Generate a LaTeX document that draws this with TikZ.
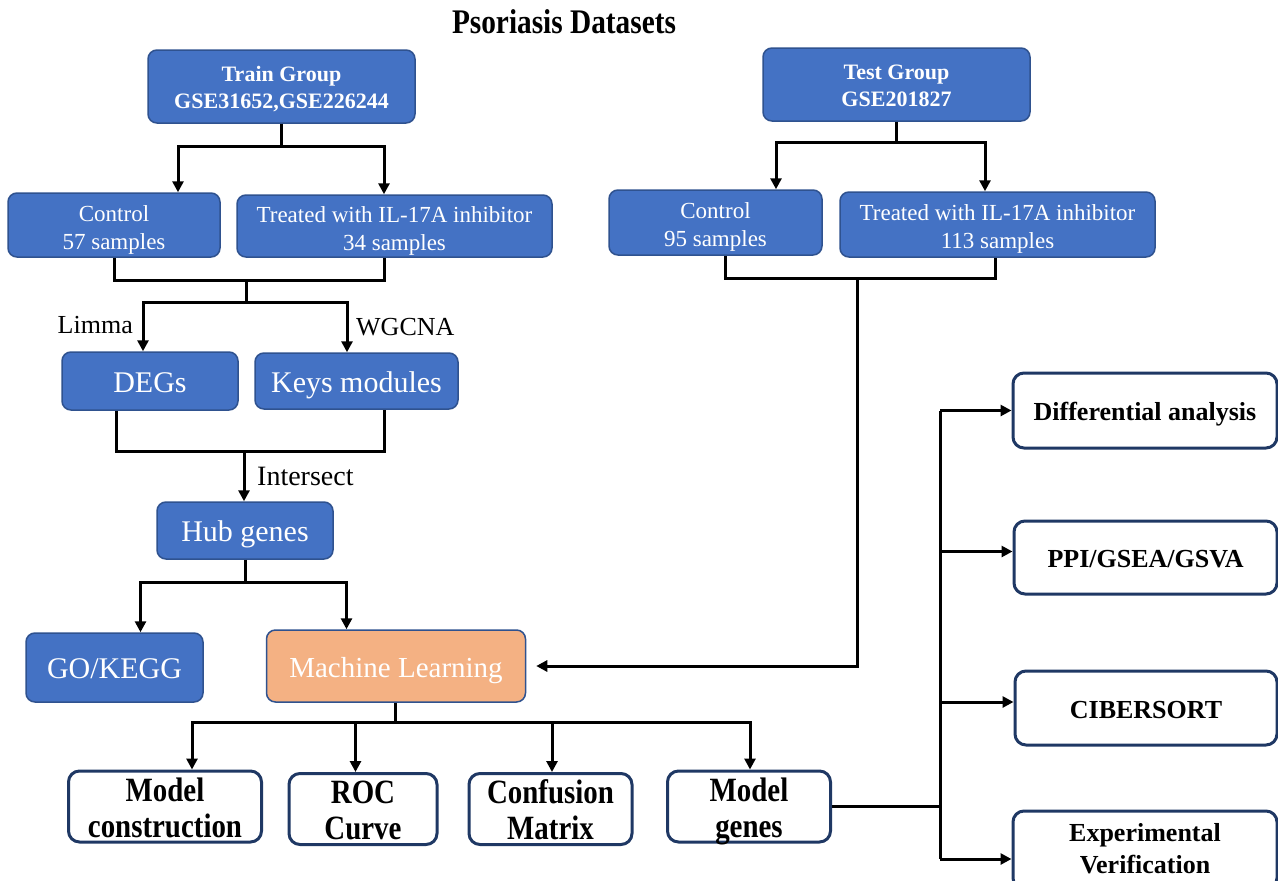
\documentclass[tikz,border=0pt]{standalone}
\usepackage{fontspec}
\setmainfont{Liberation Serif}
\newfontfamily\condbf[FakeStretch=0.85]{Liberation Serif Bold}
\usetikzlibrary{arrows.meta}
\definecolor{boxblue}{HTML}{4472C4}
\definecolor{boxedge}{HTML}{2F528F}
\definecolor{navy}{HTML}{1F3864}
\definecolor{mlorange}{HTML}{F4B183}
\tikzset{
  bluebox/.style={draw=boxedge, fill=boxblue, line width=1.5pt, rounded corners=9pt, text=white, align=center, inner sep=0pt},
  mlbox/.style={bluebox, fill=mlorange},
  whitebox/.style={draw=navy, fill=white, line width=3pt, rounded corners=11pt, text=black, align=center, inner sep=0pt},
  conn/.style={line width=3pt, line join=miter},
  arr/.style={conn, -{Triangle[length=11pt,width=11pt]}},
  lbl/.style={inner sep=0pt, font=\fontsize{26}{30}\selectfont},
  twohead/.style={text height=50pt, text depth=6.5pt},
  twoline/.style={text height=54pt, text depth=6pt},
  twobig/.style={text height=65pt, text depth=4pt},
  twoexp/.style={text height=52pt, text depth=5.3pt},
  oneline/.style={text height=30.5pt, text depth=8pt},
  oneright/.style={text height=27.5pt, text depth=7pt},
}
\begin{document}
\begin{tikzpicture}[x=1pt,y=-1pt]
\clip (0,0) rectangle (1278,881);
\fill[white] (0,0) rectangle (1278,881);

\node[inner sep=0pt, font=\condbf\fontsize{34.5}{38}\selectfont] (title) at (564,22) {Psoriasis Datasets};

% train branch
\node[bluebox, twohead, minimum width=267, minimum height=73, font=\bfseries\fontsize{22}{27}\selectfont] (train) at (281.5,86.5) {Train Group\\GSE31652,GSE226244};
\node[bluebox, twoline, minimum width=212, minimum height=64, font=\fontsize{23}{28}\selectfont] (ctrl1) at (114,225) {Control\\57 samples};
\node[bluebox, twoline, minimum width=315, minimum height=62, font=\fontsize{23}{28}\selectfont] (trt1) at (394.5,226) {Treated with IL-17A inhibitor\\34 samples};

% test branch
\node[bluebox, twohead, minimum width=267, minimum height=73, font=\bfseries\fontsize{22}{27}\selectfont] (test) at (896.5,84.5) {Test Group\\GSE201827};
\node[bluebox, twoline, minimum width=213, minimum height=65, font=\fontsize{23}{28}\selectfont] (ctrl2) at (715.5,222.5) {Control\\95 samples};
\node[bluebox, twoline, minimum width=315, minimum height=65, font=\fontsize{23}{28}\selectfont] (trt2) at (997.5,224.5) {Treated with IL-17A inhibitor\\113 samples};

% analysis
\node[bluebox, oneline, minimum width=176, minimum height=58, font=\fontsize{30}{34}\selectfont] (degs) at (150,381) {DEGs};
\node[bluebox, oneline, minimum width=203, minimum height=56, font=\fontsize{30}{34}\selectfont] (keys) at (356.5,381) {Keys modules};
\node[bluebox, oneline, minimum width=176, minimum height=57, font=\fontsize{30}{34}\selectfont] (hub) at (245,530.5) {Hub genes};
\node[bluebox, oneline, minimum width=177, minimum height=69, font=\fontsize{30}{34}\selectfont] (gokegg) at (114.5,667.5) {GO/KEGG};
\node[mlbox, oneline, minimum width=259, minimum height=72, font=\fontsize{29}{34}\selectfont] (ml) at (396,666) {Machine Learning};

% bottom white boxes
\node[whitebox, twobig, minimum width=193, minimum height=71, font=\condbf\fontsize{34}{36}\selectfont] (mc) at (165,806.5) {Model\\construction};
\node[whitebox, twobig, minimum width=148, minimum height=71, font=\condbf\fontsize{34}{36}\selectfont] (roc) at (363,809) {ROC\\Curve};
\node[whitebox, twobig, minimum width=163, minimum height=71, font=\condbf\fontsize{34}{36}\selectfont] (cm) at (550.5,809) {Confusion\\Matrix};
\node[whitebox, twobig, minimum width=163, minimum height=71, font=\condbf\fontsize{34}{36}\selectfont] (mg) at (749,806.5) {Model\\genes};

% right white boxes
\node[whitebox, oneright, minimum width=264, minimum height=75, font=\bfseries\fontsize{26}{32}\selectfont] (da) at (1145,410.5) {Differential analysis};
\node[whitebox, oneright, minimum width=263, minimum height=73, font=\bfseries\fontsize{26}{32}\selectfont] (ppi) at (1145.5,557.5) {PPI/GSEA/GSVA};
\node[whitebox, oneright, minimum width=262, minimum height=74, font=\bfseries\fontsize{26}{32}\selectfont] (cib) at (1146,708) {CIBERSORT};
\node[whitebox, twoexp, minimum width=264, minimum height=78, font=\bfseries\fontsize{26}{32}\selectfont] (ev) at (1145,850) {Experimental\\Verification};

% connectors: train
\draw[arr] (train.south) -- ++(0,23) -| ([xshift=64]ctrl1.north);
\draw[arr] (train.south) -- ++(0,23) -| ([xshift=-10.5]trt1.north);
% connectors: test
\draw[arr] (test.south) -- ++(0,21) -| ([xshift=60.5]ctrl2.north);
\draw[arr] (test.south) -- ++(0,21) -| ([xshift=-12.5]trt2.north);

% merge train groups
\coordinate (j1) at (246,280);
\coordinate (j2) at (246,302);
\draw[conn] (ctrl1.south) |- (j1) -| ([xshift=-10.5]trt1.south);
\draw[conn] (j1) -- (j2);
\draw[arr] (j2) -| ([xshift=-7]degs.north);
\draw[arr] (j2) -| ([xshift=-9.5]keys.north);
\node[lbl, anchor=east] (limma) at (133,325) {Limma};
\node[lbl, anchor=west] (wgcna) at (356,327) {WGCNA};

% merge DEGs/keys
\coordinate (j3) at (244,451);
\draw[conn] ([xshift=-34]degs.south) |- (j3) -| ([xshift=27.5]keys.south);
\draw[arr] (j3) -- (hub.north -| j3);
\node[lbl, anchor=west, font=\fontsize{28}{32}\selectfont] (inter) at (257,476) {Intersect};

% hub to GO/KEGG and ML
\coordinate (j4) at (245,582);
\draw[arr] (hub.south) -- (j4) -| ([xshift=26]gokegg.north);
\draw[arr] (j4) -| ([xshift=-49.5]ml.north);

% test merge to ML
\coordinate (j5) at (857,278);
\draw[conn] ([xshift=9.5]ctrl2.south) |- (j5) -| ([xshift=-2.5]trt2.south);
\draw[arr] (j5) |- ([xshift=10]ml.east);

% ML to bottom boxes
\coordinate (j6) at (395,722);
\draw[conn] (ml.south -| j6) -- (j6);
\draw[arr] (j6) -| ([xshift=27]mc.north);
\draw[arr] (j6) -| ([xshift=-7.5]roc.north);
\draw[arr] (j6) -| ([xshift=1.5]cm.north);
\draw[arr] (j6) -| ([xshift=1]mg.north);

% model genes to right boxes
\coordinate (bt) at (940,410.5);
\coordinate (bb) at (940,859);
\draw[conn] (mg.east) -- (mg.east -| bt);
\draw[conn] (bt) -- (bb);
\draw[arr] (bt) -- (da.west |- bt);
\draw[arr] (bt |- 0,551.5) -- (ppi.west |- 0,551.5);
\draw[arr] (bt |- 0,702) -- (cib.west |- 0,702);
\draw[arr] (bb) -- (ev.west |- bb);
\end{tikzpicture}
\end{document}
